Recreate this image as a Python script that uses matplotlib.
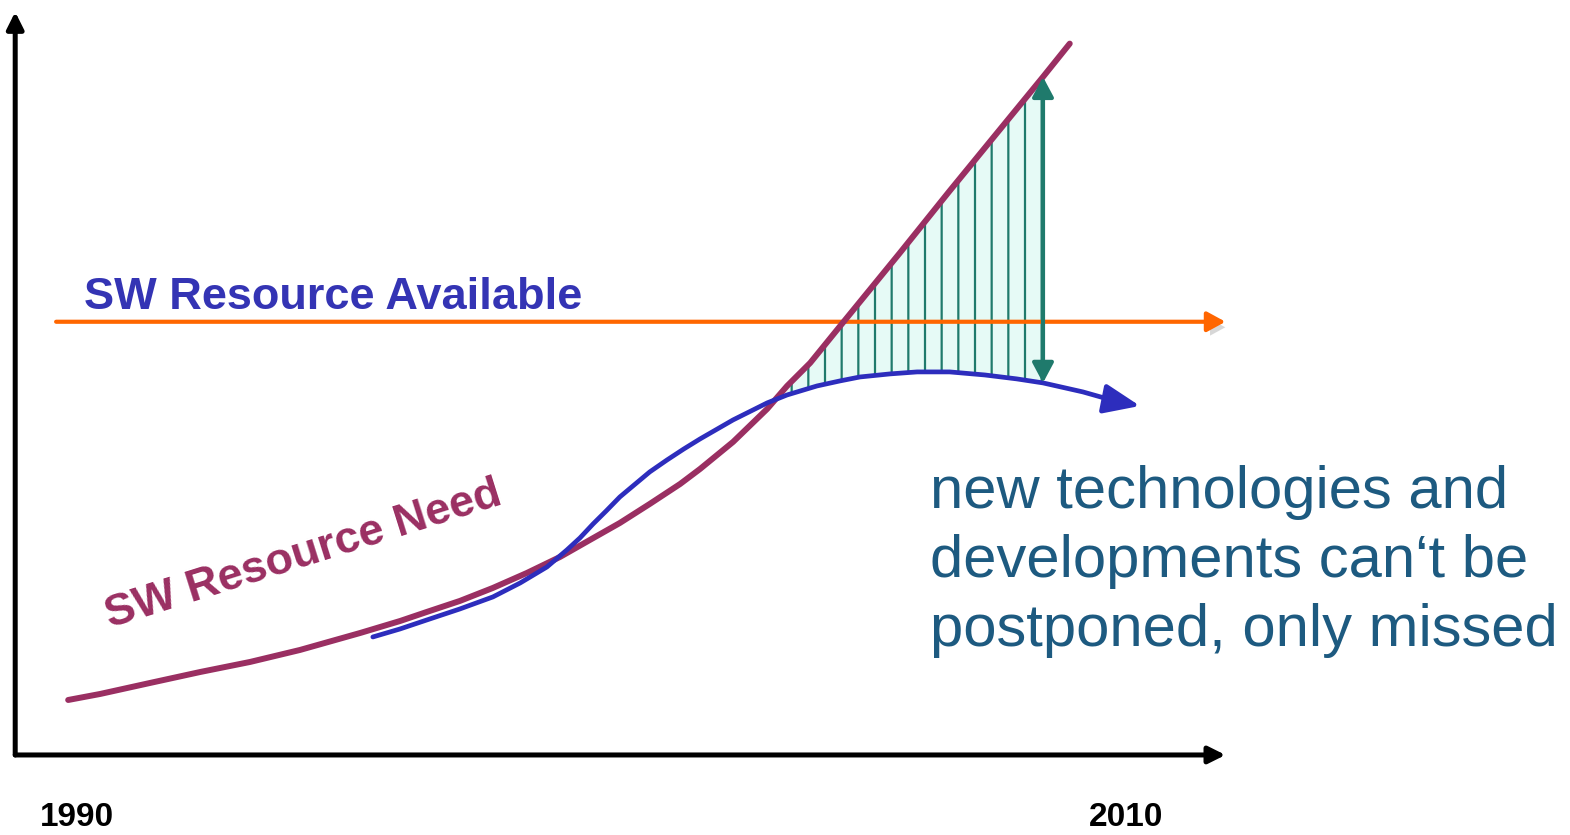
import matplotlib
matplotlib.use('Agg')
import matplotlib.pyplot as plt
import matplotlib.patheffects as pe

plt.rcParams['font.family'] = ['Liberation Sans', 'DejaVu Sans']
plt.rcParams['hatch.linewidth'] = 1.6

# SW resource need (maroon curve)
need_years = [1989.83, 1990.44, 1991.39, 1992.35, 1993.30, 1994.25, 1995.40, 1996.16, 1996.67,
              1997.30, 1997.93, 1998.58, 1999.21, 1999.78, 2000.35, 2000.92, 2001.50, 2001.88,
              2002.51, 2003.16, 2003.54, 2003.98, 2004.60, 2005.69, 2006.64, 2007.60, 2008.42, 2008.93]
need_vals = [7.40, 8.21, 9.69, 11.17, 12.52, 14.13, 16.42, 18.03, 19.25,
             20.73, 22.48, 24.50, 26.65, 28.94, 31.22, 33.78, 36.47, 38.49,
             42.13, 46.57, 49.66, 52.76, 58.14, 67.56, 75.91, 84.19, 91.25, 95.73]

# what actually gets done (blue curve)
actual_years = [1995.64, 1996.16, 1996.67, 1997.30, 1997.93, 1998.45, 1998.96, 1999.34, 1999.59,
                1999.84, 2000.09, 2000.35, 2000.60, 2000.92, 2001.25, 2001.57, 2001.88, 2002.51,
                2003.16, 2003.54, 2004.11, 2004.55, 2004.93, 2005.50, 2006.02, 2006.64, 2007.31,
                2007.92, 2008.42, 2009.18, 2009.79]
actual_vals = [15.88, 16.96, 18.17, 19.65, 21.27, 23.15, 25.30, 27.59, 29.21,
               31.09, 32.84, 34.72, 36.20, 38.09, 39.70, 41.18, 42.53, 45.09,
               47.38, 48.45, 49.66, 50.34, 50.87, 51.28, 51.55, 51.55, 51.14,
               50.61, 50.07, 48.86, 47.64]
actual_tip = (2010.27, 46.97)

# SW resource available (flat orange line)
available_level = 58.3
available_span = [1989.6, 2011.9]

# gap between need and actual
gap_start = 2003.54
gap_end = 2008.42

year_labels = [1990, 2010]
axis_x0 = 1988.82
axis_x1 = 2011.9
axis_top = 100

need_color = '#9a2f62'
actual_color = '#2d2dbd'
teal = '#1f7a6c'

fig = plt.figure(figsize=(15.7, 8.35), dpi=100)
ax = fig.add_axes([0, 0, 1, 1])
ax.set_xlim(1988.53, 2018.47)
ax.set_ylim(-10.77, 101.6)
ax.axis('off')

# axes with arrow heads
axis_arrow = dict(arrowstyle='-|>,head_length=0.5,head_width=0.25', color='black', lw=3.6,
                  shrinkA=0, shrinkB=0, mutation_scale=20)
ax.annotate('', xy=(axis_x0, axis_top), xytext=(axis_x0, 0), arrowprops=axis_arrow)
ax.annotate('', xy=(axis_x1, 0), xytext=(axis_x0, 0), arrowprops=axis_arrow)

for yr in year_labels:
    ax.text(yr, -8.4, str(yr), ha='center', va='center', fontsize=24, fontweight='bold', color='black')

# hatched gap (polygon from need going up, actual coming back)
gx = [x for x in need_years if gap_start <= x <= gap_end]
gy = [v for x, v in zip(need_years, need_vals) if gap_start <= x <= gap_end]
gx += [x for x in actual_years if gap_start <= x <= gap_end][::-1]
gy += [v for x, v in zip(actual_years, actual_vals) if gap_start <= x <= gap_end][::-1]
ax.fill(gx, gy, facecolor='#e6faf6', edgecolor=teal, hatch='|', linewidth=0, zorder=1)

# orange line with shadow
ax.annotate('', xy=(available_span[1], available_level), xytext=(available_span[0], available_level),
            arrowprops=dict(arrowstyle='-|>,head_length=0.55,head_width=0.3', color='#ff6600', lw=3,
                            shrinkA=0, shrinkB=0, mutation_scale=20,
                            path_effects=[pe.withSimplePatchShadow(offset=(3, -4), shadow_rgbFace='#b0b0b0', alpha=0.5)]),
            zorder=3)

# curves
ax.plot(need_years, need_vals, color=need_color, lw=4.3, solid_capstyle='round',
        solid_joinstyle='round', zorder=4)
ax.plot(actual_years, actual_vals, color=actual_color, lw=3.4, solid_capstyle='round',
        solid_joinstyle='round', zorder=5)
ax.annotate('', xy=actual_tip, xytext=(actual_years[-1], actual_vals[-1]),
            arrowprops=dict(arrowstyle='-|>,head_length=1.1,head_width=0.45', color=actual_color, lw=3.4,
                            shrinkA=0, shrinkB=0, mutation_scale=20), zorder=5)

# double arrow showing the gap
ax.annotate('', xy=(gap_end, need_vals[need_years.index(gap_end)]),
            xytext=(gap_end, actual_vals[actual_years.index(gap_end)]),
            arrowprops=dict(arrowstyle='<|-|>,head_length=0.6,head_width=0.32', color=teal, lw=3,
                            shrinkA=0, shrinkB=0, mutation_scale=20), zorder=6)

# labels
ax.text(1990.13, 59.95, 'SW Resource Available', ha='left', va='baseline', fontsize=32.5,
        fontweight='bold', color='#3434b4')
ax.text(1994.32, 26.9, 'SW Resource Need', ha='center', va='center', rotation=17.5,
        rotation_mode='anchor', fontsize=32.5, fontweight='bold', color=need_color)
ax.text(2006.26, 26.0, 'new technologies and\ndevelopments can\u2018t be\npostponed, only missed',
        ha='left', va='center', fontsize=43, color='#1d5a80', linespacing=1.33)

fig.savefig('out.png', dpi=100)
